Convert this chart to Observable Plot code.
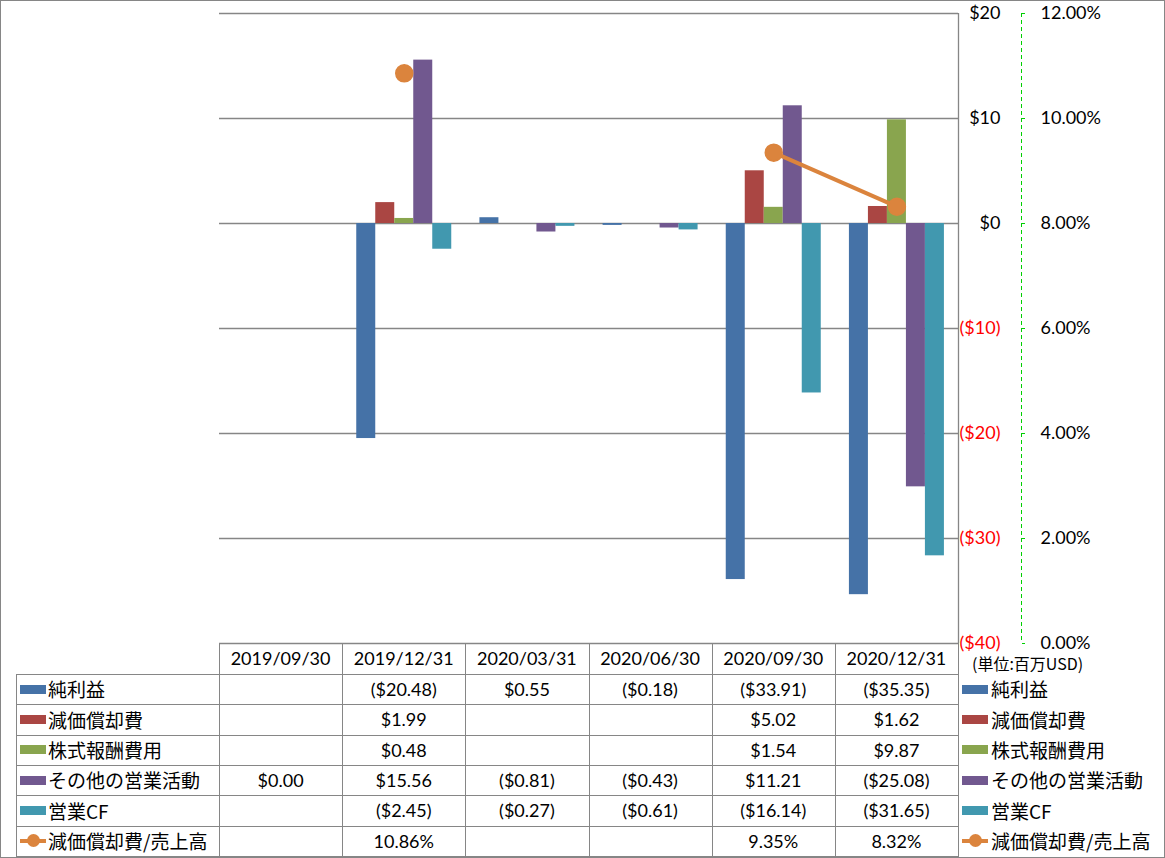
<!DOCTYPE html>
<html><head><meta charset="utf-8">
<script src="https://cdn.jsdelivr.net/npm/d3@7"></script>
<script src="https://cdn.jsdelivr.net/npm/@observablehq/plot@0.6"></script>
<style>
body{margin:0;background:#fff;}
#wrap{position:relative;width:1165px;height:858px;overflow:hidden;background:#fff;}
#border{position:absolute;left:0;top:0;width:1165px;height:858px;box-sizing:border-box;border:1px solid #868686;pointer-events:none;}
.hl{position:absolute;height:1px;background:#868686;}
.vl{position:absolute;width:1px;background:#868686;}
.cell{position:absolute;text-align:center;font-family:Lato,"Noto Sans CJK JP",sans-serif;font-size:18px;color:#000;white-space:nowrap;}
.lab{position:absolute;font-family:"Noto Sans CJK JP",sans-serif;font-size:19px;color:#000;white-space:nowrap;}
.key{position:absolute;}
#plot{position:absolute;left:0;top:0;}
</style></head><body><div id="wrap"><div id="plot"></div></div>
<script>
// ---- data ----
const categories = ["2019/09/30","2019/12/31","2020/03/31","2020/06/30","2020/09/30","2020/12/31"];
const seriesNames = ["純利益","減価償却費","株式報酬費用","その他の営業活動","営業CF"];
const lineName = "減価償却費/売上高";
const netIncome   = [null, -20.48, 0.55, -0.18, -33.91, -35.35];
const depreciation= [null, 1.99, null, null, 5.02, 1.62];
const stockComp   = [null, 0.48, null, null, 1.54, 9.87];
const otherOps    = [0.00, 15.56, -0.81, -0.43, 11.21, -25.08];
const operatingCF = [null, -2.45, -0.27, -0.61, -16.14, -31.65];
const depToSales  = [null, 10.86, null, null, 9.35, 8.32];
const dollarTicks = [20, 10, 0, -10, -20, -30, -40];
const pctTicks = [12, 10, 8, 6, 4, 2, 0];
const unitNote = "(単位:百万USD)";

// ---- styles ----
const seriesColors = ["#4572A7","#AA4643","#89A54E","#71588F","#4198AF"];
const lineColor = "#DB843D";
const seriesValues = [netIncome, depreciation, stockComp, otherOps, operatingCF];

// secondary axis mapping: percent -> dollar scale units
const pctToY = p => (p - 8) * 5;
const yToPct = y => y / 5 + 8;

const bars = [];
seriesValues.forEach((vals, j) => vals.forEach((v, i) => {
  if (v != null) bars.push({i, j, v, name: seriesNames[j]});
}));
const linePts = depToSales.map((r, i) => ({i, r}));

const barW = 19 / 123.17; // bar width in category units
const fmtD = d => d < 0 ? `($${-d})` : `$${d}`;

const plot = Plot.plot({
  width: 1165, height: 645,
  marginLeft: 219, marginRight: 207, marginTop: 13, marginBottom: 2,
  x: {type: "linear", domain: [-0.5, 5.5], axis: null},
  y: {type: "linear", domain: [-40, 20], axis: null},
  style: {fontFamily: "Lato, 'Noto Sans CJK JP', sans-serif", fontSize: "18px", background: "transparent", overflow: "visible", color: "#000"},
  marks: [
    Plot.gridY(dollarTicks, {stroke: "#868686", strokeOpacity: 1, strokeWidth: 1.3}),
    Plot.ruleX([5.5], {stroke: "#868686", strokeWidth: 1.3}),
    Plot.ruleX([5.5], {dx: 63, stroke: "#00d000", strokeDasharray: "4,3", strokeWidth: 1}),
    Plot.rect(bars, {
      x1: d => d.i + (d.j - 2.5) * barW,
      x2: d => d.i + (d.j - 1.5) * barW,
      y1: 0, y2: "v",
      fill: d => seriesColors[d.j]
    }),
    Plot.line(linePts, {x: "i", y: d => d.r == null ? NaN : pctToY(d.r), stroke: lineColor, strokeWidth: 4}),
    Plot.dot(linePts.filter(d => d.r != null), {x: "i", y: d => pctToY(d.r), r: 8.5, fill: lineColor, stroke: lineColor}),
    Plot.axisY(dollarTicks.filter(d => d >= 0), {anchor: "right", label: null, tickSize: 0, tickPadding: 0, dx: 42, textAnchor: "end", tickFormat: fmtD, fill: "#000", fontSize: 18}),
    Plot.axisY(dollarTicks.filter(d => d < 0), {anchor: "right", label: null, tickSize: 0, tickPadding: 0, dx: 42, textAnchor: "end", tickFormat: fmtD, fill: "#ff0000", fontSize: 18}),
    Plot.axisY(pctTicks.map(pctToY), {anchor: "right", label: null, tickSize: 3, tickPadding: 16, dx: 63, stroke: "#00d000", fill: "#000", tickFormat: d => yToPct(d).toFixed(2) + "%", fontSize: 18})
  ]
});
plot.style.color = "#000";
document.getElementById("plot").appendChild(plot);

// ---- data table below plot ----
const wrap = d3.select("#wrap");
const x0 = 219, x1 = 958, tableLeft = 16;
const cw = (x1 - x0) / categories.length;
const headTop = 643, rowsTop = 674, rowsBottom = 856;
const rh = (rowsBottom - rowsTop) / 6;

function hline(x, y, w) { wrap.append("div").attr("class","hl").style("left", x+"px").style("top", y+"px").style("width", w+"px"); }
function vline(x, y, h) { wrap.append("div").attr("class","vl").style("left", x+"px").style("top", y+"px").style("height", h+"px"); }

hline(x0, headTop, x1 - x0 + 1);
for (let r = 0; r <= 6; r++) hline(tableLeft, Math.round(rowsTop + r * rh), x1 - tableLeft + 1);
for (let c = 0; c <= 6; c++) vline(Math.round(x0 + c * cw), headTop, rowsBottom - headTop + 1);
vline(tableLeft, rowsTop, rowsBottom - rowsTop + 1);

function cell(text, left, top, w, h, color) {
  wrap.append("div").attr("class","cell")
    .style("left", left+"px").style("top", top+"px").style("width", w+"px")
    .style("height", h+"px").style("line-height", h+"px").style("color", color || "#000")
    .text(text);
}
categories.forEach((c, i) => cell(c, x0 + i * cw, headTop, cw, rowsTop - headTop));

const fmtV = v => v == null ? "" : (v < 0 ? `($${(-v).toFixed(2)})` : `$${v.toFixed(2)}`);
const fmtP = v => v == null ? "" : v.toFixed(2) + "%";
const rowsAll = seriesValues.map(vals => vals.map(fmtV)).concat([depToSales.map(fmtP)]);
rowsAll.forEach((vals, r) => vals.forEach((t, i) => cell(t, x0 + i * cw, rowsTop + r * rh, cw, rh)));

// legend labels (left, inside table) and right legend
const labels = seriesNames.concat([lineName]);
function legendEntry(keyX, textX, r) {
  const cy = rowsTop + r * rh + rh / 2;
  if (r < 5) {
    wrap.append("div").attr("class","key").style("left", keyX+"px").style("top", (cy - 4.5)+"px")
      .style("width","26px").style("height","9px").style("background", seriesColors[r]);
  } else {
    wrap.append("div").attr("class","key").style("left", keyX+"px").style("top", (cy - 2)+"px")
      .style("width","26px").style("height","4px").style("background", lineColor);
    wrap.append("div").attr("class","key").style("left", (keyX + 6.5)+"px").style("top", (cy - 6.5)+"px")
      .style("width","13px").style("height","13px").style("border-radius","50%").style("background", lineColor);
  }
  wrap.append("div").attr("class","lab").style("left", textX+"px").style("top", (cy - 15)+"px")
    .style("height","30px").style("line-height","30px").text(labels[r]);
}
labels.forEach((l, r) => { legendEntry(20, 48, r); legendEntry(962, 991, r); });

wrap.append("div").attr("class","lab").style("left","972px").style("top","655px")
  .style("font-size","16px").style("line-height","17px").text(unitNote);

wrap.append("div").attr("id","border");
</script></body></html>
